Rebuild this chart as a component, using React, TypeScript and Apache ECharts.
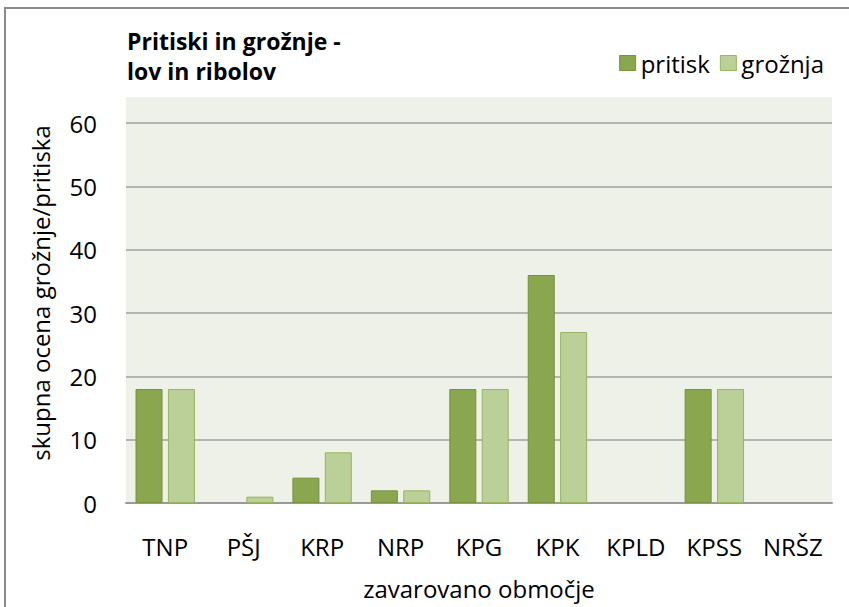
import React, { useEffect, useRef } from "react";
import * as echarts from "echarts";

const categories = ["TNP", "PŠJ", "KRP", "NRP", "KPG", "KPK", "KPLD", "KPSS", "NRŠZ"];
const pritisk = [18, 0, 4, 2, 18, 36, 0, 18, 0];
const groznja = [18, 1, 8, 2, 18, 27, 0, 18, 0];
const titleLines = ["Pritiski in grožnje -", "lov in ribolov"];
const seriesNames = ["pritisk", "grožnja"];
const xAxisName = "zavarovano območje";
const yAxisName = "skupna ocena grožnje/pritiska";

const FONT = "'Open Sans', 'Noto Sans', sans-serif";

const toData = (arr: number[]) =>
  arr.map((v) => (v === 0 ? { value: v, itemStyle: { borderWidth: 0, opacity: 0 } } : v));

export default function App() {
  const ref = useRef<HTMLDivElement>(null);
  useEffect(() => {
    if (!ref.current) return;
    const chart = echarts.init(ref.current, undefined, { renderer: "svg" });
    chart.setOption({
      animation: false,
      backgroundColor: "#ffffff",
      textStyle: { fontFamily: FONT },
      graphic: [
        {
          type: "rect",
          shape: { x: 5, y: 8, width: 900, height: 700 },
          style: { fill: "none", stroke: "#8a8a8a", lineWidth: 2 },
          z: 0,
        },
        {
          type: "rect",
          shape: { x: 126, y: 97, width: 706, height: 406 },
          style: { fill: "#eef1e8" },
          z: -1,
        },
        {
          type: "text",
          x: 127,
          y: 26,
          style: {
            text: titleLines.join("\n"),
            font: `bold 23px ${FONT}`,
            fill: "#000",
            lineHeight: 30,
          },
        },
        {
          type: "text",
          x: 40,
          y: 293,
          rotation: Math.PI / 2,
          style: {
            text: yAxisName,
            font: `24px ${FONT}`,
            fill: "#000",
            align: "center",
            verticalAlign: "middle",
          },
        },
      ],
      legend: {
        data: seriesNames,
        right: 20,
        top: 46,
        itemWidth: 16,
        itemHeight: 15,
        itemGap: 10,
        icon: "rect",
        textStyle: { fontSize: 24, color: "#000", fontFamily: FONT },
        itemStyle: { borderWidth: 1 },
      },
      grid: {
        left: 126,
        right: 17,
        top: 123,
        bottom: 104,
        containLabel: false,
        outerBoundsMode: "none",
      },
      xAxis: {
        type: "category",
        data: categories,
        axisLine: { lineStyle: { color: "#9a9a9a", width: 2 } },
        axisTick: { show: false },
        axisLabel: { fontSize: 24, color: "#000", margin: 31, fontFamily: FONT },
        name: xAxisName,
        nameLocation: "middle",
        nameGap: 73,
        nameTextStyle: { fontSize: 24, color: "#000", fontFamily: FONT },
      },
      yAxis: {
        type: "value",
        min: 0,
        max: 60,
        interval: 10,
        axisLine: { show: false },
        axisTick: { show: false },
        axisLabel: { fontSize: 24, color: "#000", margin: 29, fontFamily: FONT },
        splitLine: { lineStyle: { color: "#a0a0a0", width: 1.5 } },
      },
      series: [
        {
          name: seriesNames[0],
          type: "bar",
          data: toData(pritisk),
          barWidth: 27,
          barGap: "20%",
          itemStyle: { color: "#8aa64f", borderColor: "#76923c", borderWidth: 1 },
        },
        {
          name: seriesNames[1],
          type: "bar",
          data: toData(groznja),
          barWidth: 27,
          itemStyle: { color: "#bbcf98", borderColor: "#98b55f", borderWidth: 1 },
        },
      ],
    });
    return () => chart.dispose();
  }, []);
  return (
    <div
      ref={ref}
      style={{ position: "fixed", left: 0, top: 0, width: 849, height: 607 }}
    />
  );
}
